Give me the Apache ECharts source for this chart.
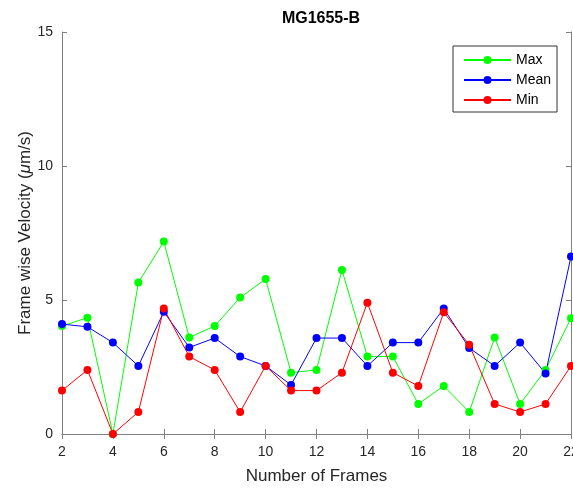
<!DOCTYPE html>
<html><head><meta charset="utf-8">
<script src="https://cdn.jsdelivr.net/npm/echarts@6/dist/echarts.min.js"></script>
<style>html,body{margin:0;padding:0;background:#fff}#c{width:573px;height:489px}</style>
</head><body><div id="c"></div>
<script>
const frames = [2,3,4,5,6,7,8,9,10,11,12,13,14,15,16,17,18,19,20,21,22];
const maxVals  = [4.03,4.34,0.0,5.65,7.18,3.60,4.03,5.09,5.78,2.29,2.39,6.12,2.89,2.89,1.12,1.79,0.82,3.60,1.12,2.39,4.32];
const meanVals = [4.10,4.00,3.41,2.54,4.56,3.23,3.58,2.89,2.54,1.83,3.58,3.58,2.54,3.41,3.41,4.68,3.21,2.54,3.41,2.26,6.62];
const minVals  = [1.62,2.39,0.0,0.82,4.68,2.89,2.39,0.82,2.54,1.62,1.62,2.29,4.90,2.29,1.79,4.54,3.33,1.12,0.82,1.12,2.54];
const xTicks = {min:2, max:22, interval:2};
const yTicks = {min:0, max:15, interval:5};

const font = 'Liberation Sans, Arial, sans-serif';
const axisColor = '#808080';
const labelColor = '#262626';

function mk(name, data, color){
  return {
    name, type:'line', data: frames.map((f,i)=>[f,data[i]]),
    symbol:'circle', symbolSize:8, clip:false,
    lineStyle:{color, width:1}, itemStyle:{color},
    emphasis:{disabled:true}
  };
}
const chart = echarts.init(document.getElementById('c'), null, {renderer:'canvas'});
chart.setOption({
  animation:false,
  title:{text:'MG1655-B', left:316, top:6, textAlign:'center',
    textStyle:{fontFamily:font, fontSize:16, fontWeight:'bold', color:'#000'}},
  grid:{left:62, right:2, top:32, bottom:55, outerBoundsMode:'none'},
  legend:{
    orient:'vertical', left:453, top:46, itemWidth:47, itemHeight:10, itemGap:6,
    padding:[7,6,5,10], borderColor:'#333', borderWidth:1, backgroundColor:'#fff',
    textStyle:{fontFamily:font, fontSize:14, color:'#000'},
    data:['Max','Mean','Min']
  },
  xAxis:[{
    type:'value', min:xTicks.min, max:xTicks.max, interval:xTicks.interval, position:'bottom',
    name:'Number of Frames', nameLocation:'middle', nameGap:34,
    nameTextStyle:{fontFamily:font, fontSize:17, color:labelColor},
    axisLine:{show:true, lineStyle:{color:axisColor}},
    axisTick:{show:true, inside:true, length:5, lineStyle:{color:axisColor}},
    axisLabel:{fontFamily:font, fontSize:14, color:labelColor, margin:11},
    splitLine:{show:false}
  },{
    type:'value', min:xTicks.min, max:xTicks.max, interval:xTicks.interval, position:'top',
    axisLine:{show:true, lineStyle:{color:axisColor}},
    axisTick:{show:true, inside:true, length:5, lineStyle:{color:axisColor}},
    axisLabel:{show:false}, splitLine:{show:false}
  }],
  yAxis:[{
    type:'value', min:yTicks.min, max:yTicks.max, interval:yTicks.interval, position:'left',
    name:'Frame wise Velocity ({i|μ}m/s)', nameLocation:'middle', nameGap:28, nameMoveOverlap:false,
    nameTextStyle:{fontFamily:font, fontSize:17, color:labelColor, rich:{i:{fontFamily:font, fontSize:17, fontStyle:'italic', color:labelColor}}},
    axisLine:{show:true, lineStyle:{color:axisColor}},
    axisTick:{show:true, inside:true, length:5, lineStyle:{color:axisColor}},
    axisLabel:{fontFamily:font, fontSize:14, color:labelColor, margin:9},
    splitLine:{show:false}
  },{
    type:'value', min:yTicks.min, max:yTicks.max, interval:yTicks.interval, position:'right',
    axisLine:{show:true, lineStyle:{color:axisColor}},
    axisTick:{show:true, inside:true, length:5, lineStyle:{color:axisColor}},
    axisLabel:{show:false}, splitLine:{show:false}
  }],
  series:[mk('Max',maxVals,'#00ff00'), mk('Mean',meanVals,'#0000ff'), mk('Min',minVals,'#ff0000')]
});
</script></body></html>
